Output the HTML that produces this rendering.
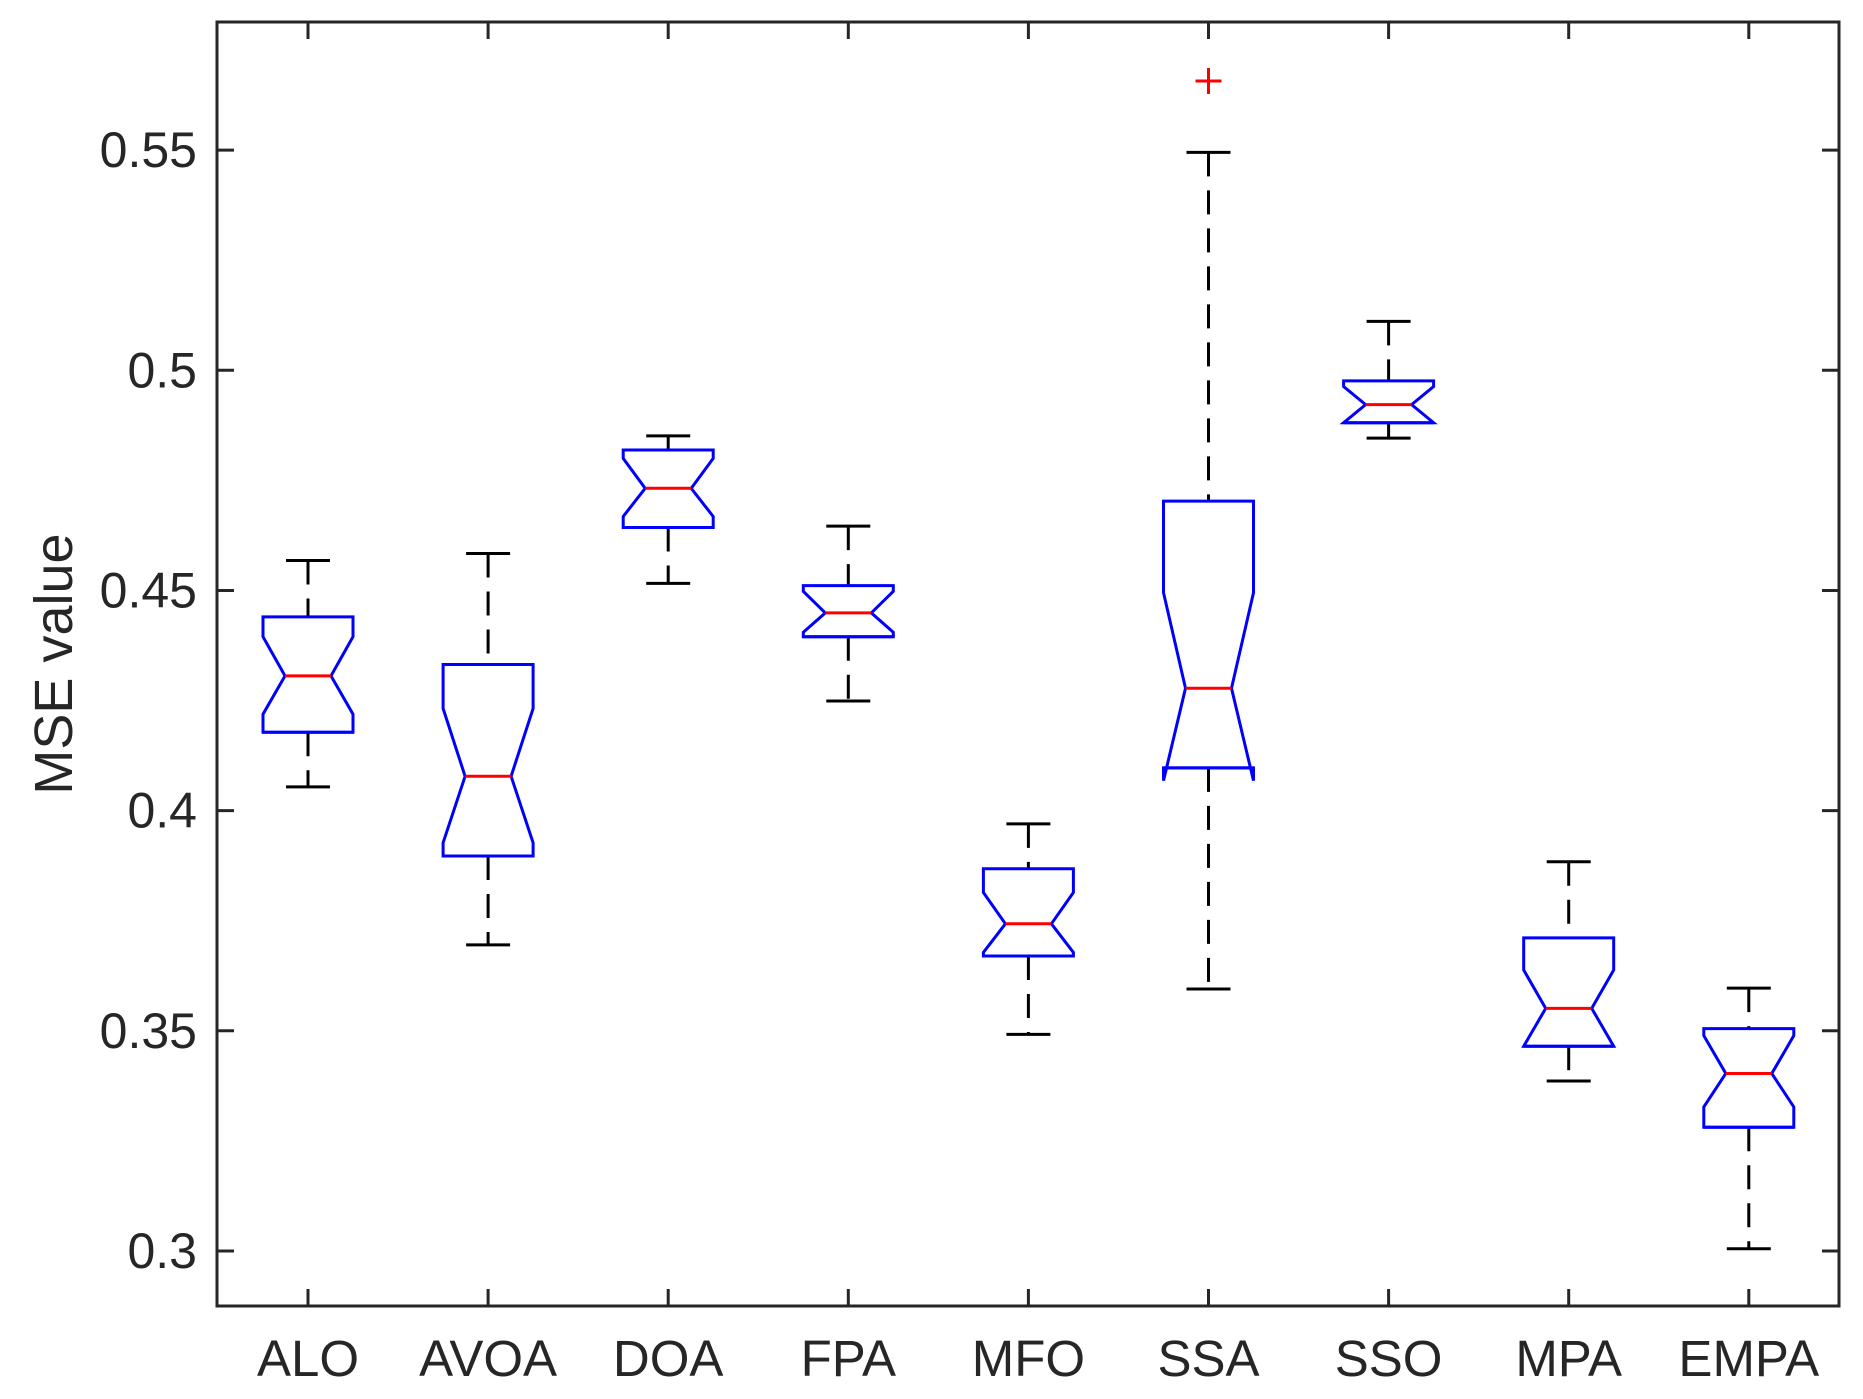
<!DOCTYPE html>
<html><head><meta charset="utf-8"><style>
body{margin:0;background:#fff}
svg{display:block}
text{font-family:"Liberation Sans",Arial,sans-serif;fill:#262626}
</style></head><body>
<svg id="chart" width="1863" height="1399" viewBox="0 0 1863 1399" xmlns="http://www.w3.org/2000/svg">
<rect width="1863" height="1399" fill="#fff"/>
<g id="plot"></g>
</svg>
<script>
const categories=["ALO","AVOA","DOA","FPA","MFO","SSA","SSO","MPA","EMPA"];
const whiskerHigh=[0.4568,0.4584,0.4851,0.4646,0.3970,0.5495,0.5111,0.3884,0.3597];
const q3Values=[0.4440,0.4332,0.4819,0.4511,0.3868,0.4703,0.4976,0.3711,0.3505];
const notchHigh=[0.4395,0.4232,0.4800,0.4498,0.3814,0.4495,0.4963,0.3638,0.3489];
const medianValues=[0.4306,0.4078,0.4732,0.4449,0.3743,0.4278,0.4922,0.3551,0.3403];
const notchLow=[0.4219,0.3927,0.4668,0.4405,0.3678,0.4068,0.4881,0.3465,0.3327];
const q1Values=[0.4178,0.3897,0.4643,0.4395,0.3670,0.4097,0.4881,0.3465,0.3281];
const whiskerLow=[0.4054,0.3695,0.4516,0.4249,0.3492,0.3595,0.4846,0.3386,0.3005];
const outlierCats=[5];
const outlierValues=[0.5657];
const yTicks=[0.3,0.35,0.4,0.45,0.5,0.55];
const yTickLabels=["0.3","0.35","0.4","0.45","0.5","0.55"];

const L=217,R=1839,T=22,B=1306,yMin=0.2875,yMax=0.5791;
const y=v=>B-(v-yMin)/(yMax-yMin)*(B-T);
const x0=308,dx=180.1;
const x=i=>x0+i*dx;
const NS="http://www.w3.org/2000/svg";
const g=document.getElementById('plot');
function mk(tag,attrs,parent){const e=document.createElementNS(NS,tag);for(const k in attrs)e.setAttribute(k,attrs[k]);(parent||g).appendChild(e);return e;}

const frame=mk('rect',{x:L,y:T,width:R-L,height:B-T,fill:'none',stroke:'#262626','stroke-width':3});



yTicks.forEach((v,i)=>{
  const yy=y(v);
  const t1=mk('line',{x1:L,x2:L+17,y1:yy,y2:yy,stroke:'#262626','stroke-width':3});
  
  
  const t2=mk('line',{x1:R,x2:R-17,y1:yy,y2:yy,stroke:'#262626','stroke-width':3});
  
  
  const tx=mk('text',{x:197,y:yy+17,'text-anchor':'end','font-size':50});
  tx.textContent=yTickLabels[i];
  
  
});

categories.forEach((c,i)=>{
  const cx=x(i);
  const t1=mk('line',{x1:cx,x2:cx,y1:B,y2:B-17,stroke:'#262626','stroke-width':3});
  
  
  const t2=mk('line',{x1:cx,x2:cx,y1:T,y2:T+17,stroke:'#262626','stroke-width':3});
  
  
  const tx=mk('text',{x:cx,y:1376,'text-anchor':'middle','font-size':51});
  tx.textContent=c;
  
  

  const bw=45,nw=23,cw=22;
  const w1=mk('line',{x1:cx,x2:cx,y1:y(whiskerHigh[i]),y2:y(q3Values[i]),stroke:'#000','stroke-width':3,'stroke-dasharray':'24,14'});
  
  
  const w2=mk('line',{x1:cx,x2:cx,y1:y(q1Values[i]),y2:y(whiskerLow[i]),stroke:'#000','stroke-width':3,'stroke-dasharray':'24,14'});
  
  
  const c1=mk('line',{x1:cx-cw,x2:cx+cw,y1:y(whiskerHigh[i]),y2:y(whiskerHigh[i]),stroke:'#000','stroke-width':3});
  
  
  const c2=mk('line',{x1:cx-cw,x2:cx+cw,y1:y(whiskerLow[i]),y2:y(whiskerLow[i]),stroke:'#000','stroke-width':3});
  
  
  const pts=[[cx-bw,y(q3Values[i])],[cx+bw,y(q3Values[i])],[cx+bw,y(notchHigh[i])],[cx+nw,y(medianValues[i])],[cx+bw,y(notchLow[i])],[cx+bw,y(q1Values[i])],[cx-bw,y(q1Values[i])],[cx-bw,y(notchLow[i])],[cx-nw,y(medianValues[i])],[cx-bw,y(notchHigh[i])]];
  const box=mk('polygon',{points:pts.map(p=>p.join(',')).join(' '),fill:'none',stroke:'#0000ff','stroke-width':3});
  
  
  const q1l=mk('line',{x1:cx-bw,x2:cx+bw,y1:y(q1Values[i]),y2:y(q1Values[i]),stroke:'#0000ff','stroke-width':3});
  
  
  const md=mk('line',{x1:cx-nw,x2:cx+nw,y1:y(medianValues[i]),y2:y(medianValues[i]),stroke:'#ff0000','stroke-width':3});
  
  
});

outlierCats.forEach((ci,k)=>{
  const cx=x(ci),yy=y(outlierValues[k]);
  const o=mk('path',{d:`M${cx-13},${yy}H${cx+13}M${cx},${yy-13}V${yy+13}`,stroke:'#ff0000','stroke-width':3,fill:'none'});
  
  
});

const yt=mk('text',{x:0,y:0,'text-anchor':'middle','font-size':54,transform:`translate(72,${(T+B)/2}) rotate(-90)`});
yt.textContent='MSE value';


</script>
</body></html>
